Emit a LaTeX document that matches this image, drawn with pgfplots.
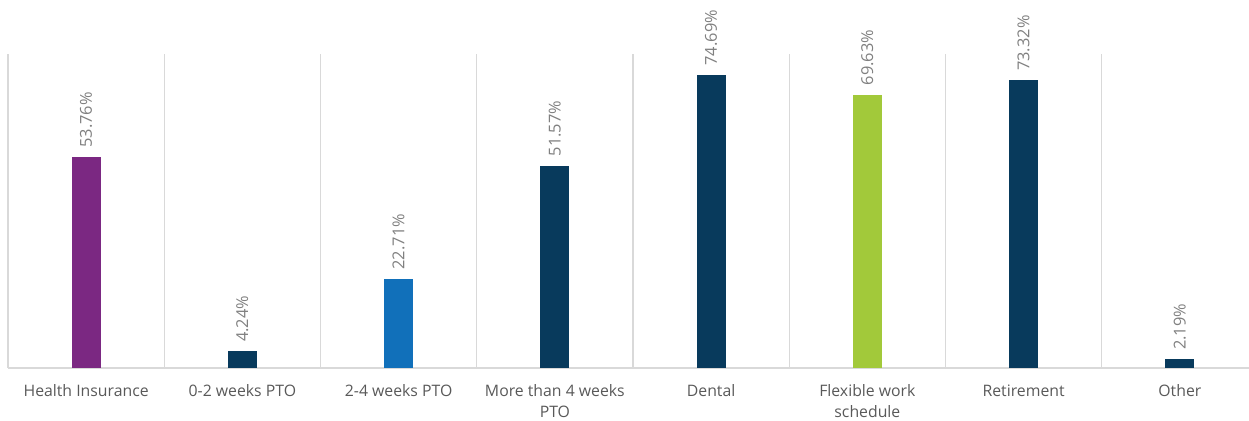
\documentclass[border=0pt]{standalone}
\usepackage{pgfplots}
\pgfplotsset{compat=1.18}
\usepackage{fontspec}
\setmainfont{Open Sans}
\definecolor{cpurple}{HTML}{7B2882}
\definecolor{cnavy}{HTML}{083A5C}
\definecolor{cblue}{HTML}{1170BA}
\definecolor{cgreen}{HTML}{A2C93A}
\definecolor{cgrid}{HTML}{D9D9D9}
\definecolor{clab}{HTML}{595959}
\definecolor{cval}{HTML}{808080}
\begin{document}
\begin{tikzpicture}
\begin{axis}[
  scale only axis,
  width=625pt, height=157pt,
  xmin=-0.5, xmax=7.5, ymin=0, ymax=80,
  axis x line*=bottom, axis y line=none,
  x axis line style={cgrid, line width=1pt, -},
  xtick={0,...,7},
  xticklabels={Health Insurance,0-2 weeks PTO,2-4 weeks PTO,{More than 4 weeks\\PTO},Dental,{Flexible work\\schedule},Retirement,Other},
  major tick length=0pt,
  minor xtick={-0.5,0.5,...,7.5},
  minor tick length=0pt,
  minor x grid style={cgrid, line width=0.6pt},
  xminorgrids=true,
  xticklabel style={align=center, font=\fontsize{7.9}{10.5}\selectfont, text=clab, inner sep=0pt, yshift=-8.3pt},
  ybar, bar width=14.5pt, bar shift=0pt,
  /pgf/number format/assume math mode=true,
  nodes near coords={\pgfmathprintnumber[fixed,precision=2,fixed zerofill]{\pgfplotspointmeta}\%},
  every node near coord/.style={font=\fontsize{8.2}{9}\selectfont, text=cval, yshift=4.5pt, rotate=90, anchor=west, inner sep=0pt},
  clip=false,
]
\addplot[draw=none, fill=cpurple] coordinates {(0,53.76)};
\addplot[draw=none, fill=cnavy] coordinates {(1,4.24)};
\addplot[draw=none, fill=cblue] coordinates {(2,22.71)};
\addplot[draw=none, fill=cnavy] coordinates {(3,51.57)};
\addplot[draw=none, fill=cnavy] coordinates {(4,74.69)};
\addplot[draw=none, fill=cgreen] coordinates {(5,69.63)};
\addplot[draw=none, fill=cnavy] coordinates {(6,73.32)};
\addplot[draw=none, fill=cnavy] coordinates {(7,2.19)};
\end{axis}
\pgfresetboundingbox
\path ([shift={(-4pt,-26.5pt)}]current axis.south west) rectangle ([shift={(620.5pt,27pt)}]current axis.north west);
\end{tikzpicture}
\end{document}
